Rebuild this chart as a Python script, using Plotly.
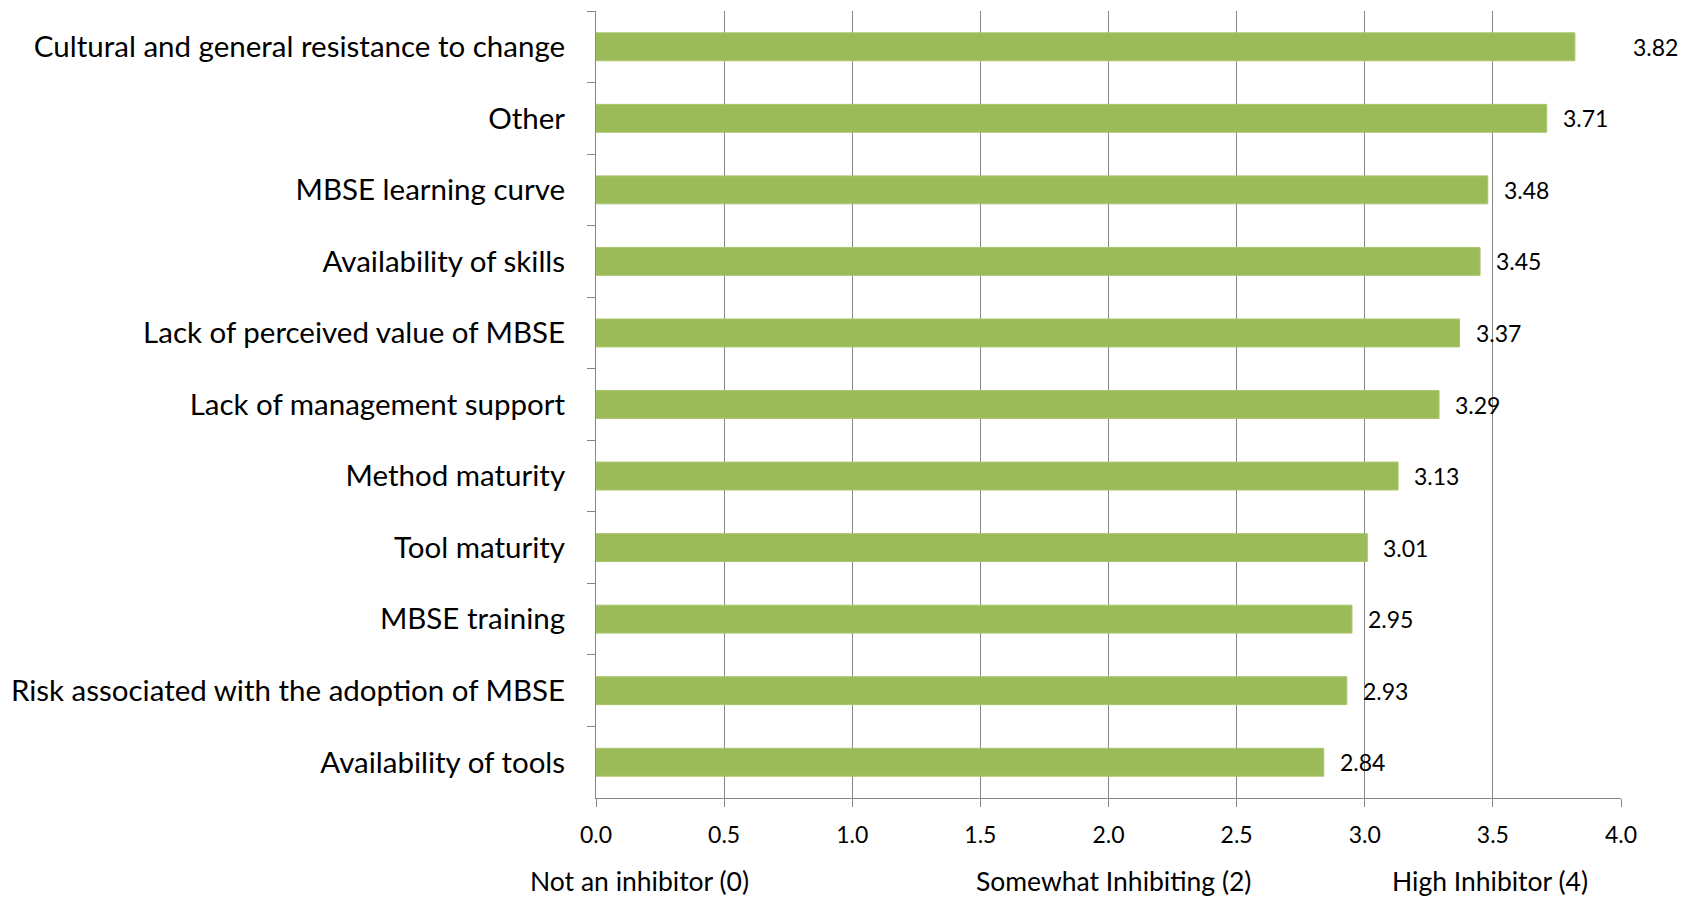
import plotly.graph_objects as go

categories = [
    "Cultural and general resistance to change",
    "Other",
    "MBSE learning curve",
    "Availability of skills",
    "Lack of perceived value of MBSE",
    "Lack of management support",
    "Method maturity",
    "Tool maturity",
    "MBSE training",
    "Risk associated with the adoption of MBSE",
    "Availability of tools",
]
values = [3.82, 3.71, 3.48, 3.45, 3.37, 3.29, 3.13, 3.01, 2.95, 2.93, 2.84]
x_ticks = [0.0, 0.5, 1.0, 1.5, 2.0, 2.5, 3.0, 3.5, 4.0]
scale_labels = ["Not an inhibitor (0)", "Somewhat Inhibiting (2)", "High Inhibitor (4)"]
scale_positions = [0.17, 2.02, 3.49]

FONT = "Lato"
# page body has an 8px margin, so the figure is sized/offset to compensate
W, H = 1682, 891
ML, MR, MT, MB = 585, 69, 3, 101
plot_w = W - ML - MR
xmax = 4.0
px_per_unit = plot_w / xmax
GRAY = "#868686"

fig = go.Figure()
fig.add_trace(go.Bar(
    y=categories, x=values, orientation="h",
    marker=dict(color="#9BBB59", line=dict(color="#A9C56C", width=1)),
    width=0.39, hoverinfo="x+y",
))

# value labels (Excel-style: pushed past plot edge if they'd be clipped)
label_w = 46
for c, v in zip(categories, values):
    start_px = v * px_per_unit + 16
    if start_px + label_w > plot_w:
        fig.add_annotation(x=xmax, y=c, xref="x", yref="y", text=f"{v:.2f}",
                           showarrow=False, xanchor="left", xshift=10,
                           font=dict(family=FONT, size=23, color="black"))
    else:
        fig.add_annotation(x=v, y=c, xref="x", yref="y", text=f"{v:.2f}",
                           showarrow=False, xanchor="left", xshift=14,
                           font=dict(family=FONT, size=23, color="black"))

for lab, pos in zip(scale_labels, scale_positions):
    fig.add_annotation(x=pos / xmax, y=0, xref="paper", yref="paper", text=lab,
                       showarrow=False, xanchor="center", yanchor="middle", yshift=-83,
                       font=dict(family=FONT, size=26.5, color="black"))

fig.update_layout(
    width=W, height=H,
    margin=dict(l=ML, r=MR, t=MT, b=MB, pad=0),
    plot_bgcolor="white", paper_bgcolor="white",
    showlegend=False,
    font=dict(family=FONT, color="black"),
)
fig.update_xaxes(
    range=[0, xmax], tickvals=x_ticks, tickformat=".1f",
    showgrid=True, gridcolor=GRAY, gridwidth=1,
    showline=True, linecolor=GRAY, linewidth=1,
    ticks="outside", ticklen=8, tickcolor=GRAY,
    ticklabelstandoff=8,
    tickfont=dict(family=FONT, size=23, color="black"),
    zeroline=False, fixedrange=True,
)
fig.update_yaxes(
    type="category", categoryorder="array", categoryarray=categories,
    autorange="reversed",
    showline=True, linecolor=GRAY, linewidth=1,
    ticks="outside", ticklen=8, tickcolor=GRAY, tickson="boundaries",
    ticklabelstandoff=24,
    tickfont=dict(family=FONT, size=29.5, color="black"),
    showgrid=False, zeroline=False, fixedrange=True,
)

fig.write_html("out.html")
